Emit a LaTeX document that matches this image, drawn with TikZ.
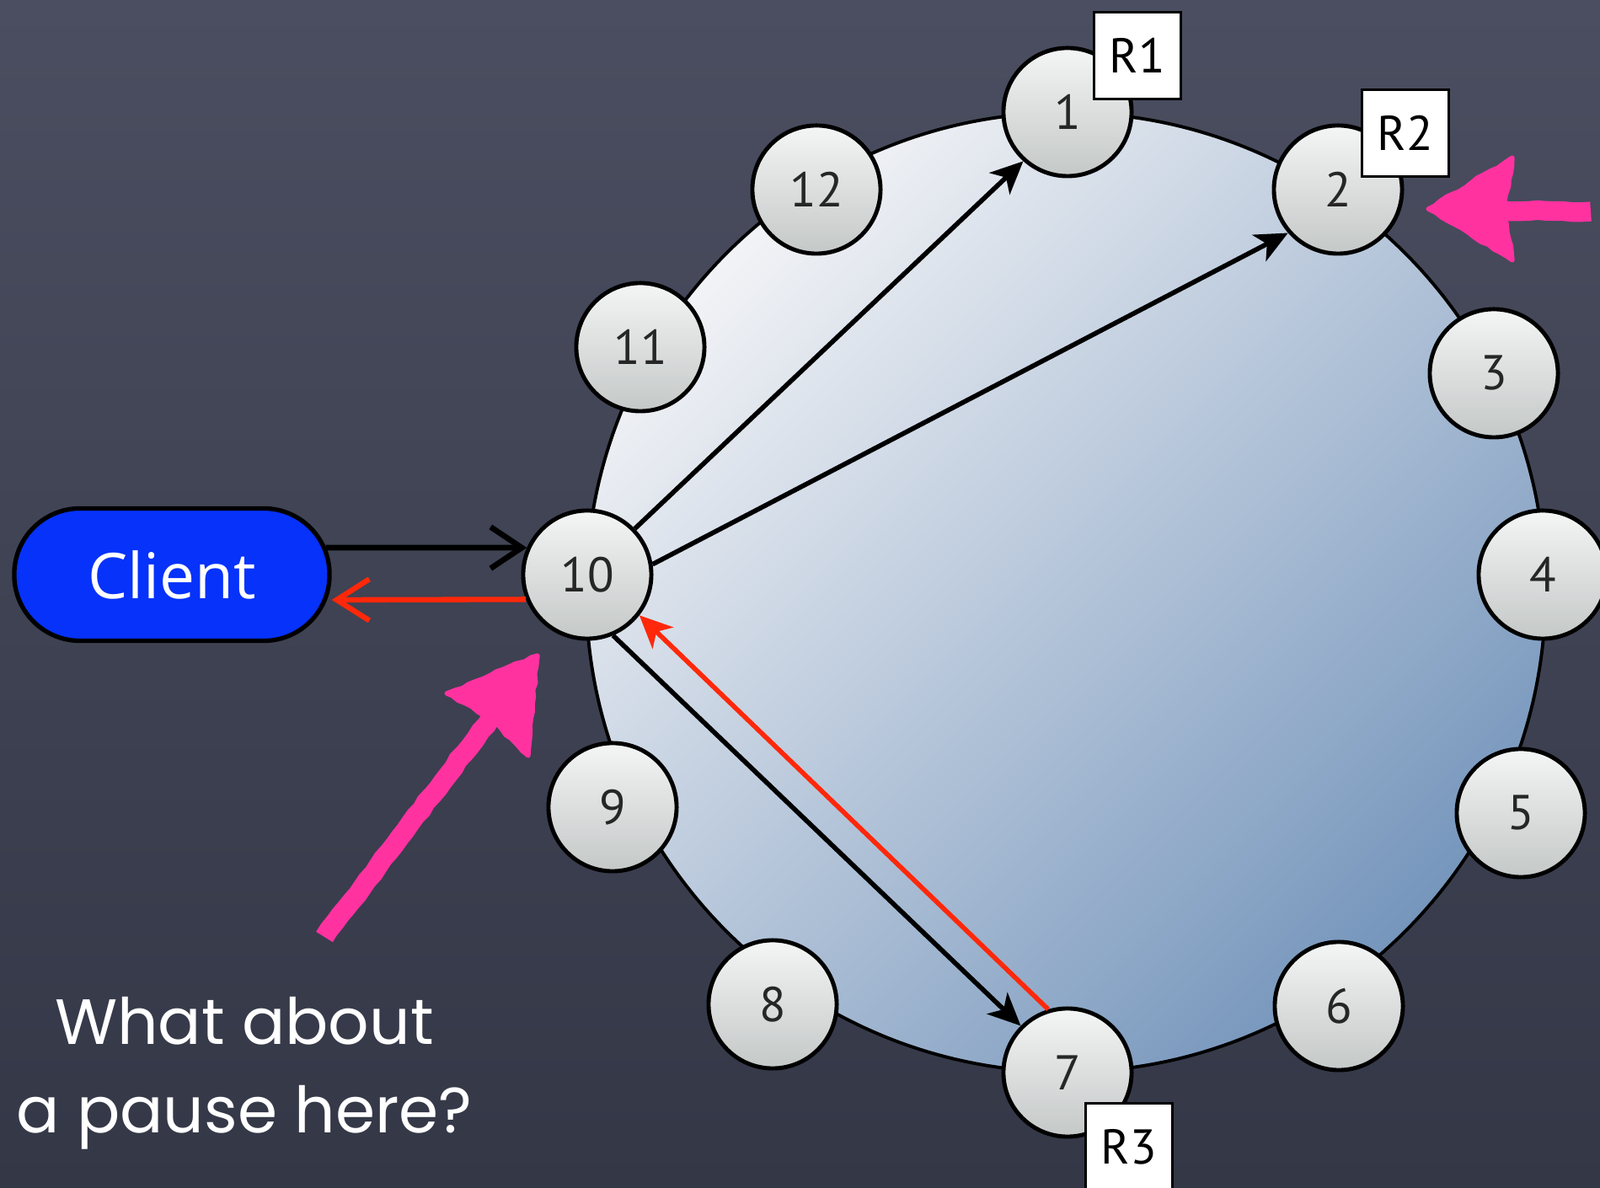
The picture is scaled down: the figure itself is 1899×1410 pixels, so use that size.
\documentclass[tikz,border=0pt]{standalone}
\usepackage{fontspec}
\setmainfont{PT Sans}
\newfontfamily\clientfont{Open Sans}
\newfontfamily\chalkfont{Poppins}
\usetikzlibrary{arrows.meta,shadings,decorations.pathmorphing}
\definecolor{bgtop}{RGB}{74,78,96}
\definecolor{bgbot}{RGB}{52,55,70}
\definecolor{ringlight}{RGB}{242,243,246}
\definecolor{ringmid}{RGB}{208,217,229}
\definecolor{ringdark}{RGB}{118,150,188}
\definecolor{nodetop}{RGB}{244,245,245}
\definecolor{nodebot}{RGB}{196,200,199}
\definecolor{clientblue}{RGB}{6,50,250}
\definecolor{msgred}{RGB}{255,40,10}
\definecolor{chalkpink}{RGB}{255,50,160}
\tikzset{
  ringnode/.style={circle, draw=black, line width=1.4pt, minimum size=1.52cm, inner sep=0pt,
    top color=nodetop, bottom color=nodebot, text=black!85,
    font=\fontsize{16.5}{16.5}\selectfont},
  rbox/.style={draw=black, fill=white, line width=0.9pt, minimum width=1.03cm,
    minimum height=1.03cm, inner sep=0pt, font=\fontsize{16.5}{16.5}\selectfont},
  clientbox/.style={draw=black, line width=1.5pt, fill=clientblue, rounded corners=0.78cm,
    minimum width=3.74cm, minimum height=1.57cm, text=white,
    font=\clientfont\fontsize{21.3}{21.3}\selectfont},
  blackarrow/.style={draw=black, line width=1.6pt, -{Stealth[length=11pt,width=10pt,inset=3pt]}},
  redarrow/.style={draw=msgred, line width=1.6pt, -{Stealth[length=11pt,width=10pt,inset=3pt]}},
  chalkline/.style={draw=chalkpink, line width=6.6pt, line cap=butt,
    decorate, decoration={random steps, segment length=3pt, amplitude=0.3pt}},
  chalkhead/.style={fill=chalkpink, draw=chalkpink, line width=1.5pt, line join=round,
    decorate, decoration={random steps, segment length=2.5pt, amplitude=0.4pt}},
  question/.style={text=white, font=\chalkfont\fontsize{21.6}{21.6}\selectfont, anchor=base}
}
\begin{document}
\begin{tikzpicture}[x=0.01cm,y=-0.01cm]
\useasboundingbox (0,0) rectangle (1899,1410);
\clip (0,0) rectangle (1899,1410);
\fill[top color=bgtop, bottom color=bgbot] (0,0) rectangle (1899,1410);

% ring
\draw[line width=1.1pt, shading=axis, top color=ringlight, middle color=ringmid,
  bottom color=ringdark, shading angle=45] (1265,703) circle[radius=5.69cm];

% ring nodes
\node[ringnode] (n1) at (1267,133) {1};
\node[ringnode] (n2) at (1588,225) {2};
\node[ringnode] (n3) at (1773,443) {3};
\node[ringnode] (n4) at (1831,682) {4};
\node[ringnode] (n5) at (1805,965) {5};
\node[ringnode] (n6) at (1589,1194) {6};
\node[ringnode] (n7) at (1267,1273) {7};
\node[ringnode] (n8) at (917,1192) {8};
\node[ringnode] (n9) at (727,958) {9};
\node[ringnode] (n10) at (697,682) {10};
\node[ringnode] (n11) at (760,412) {11};
\node[ringnode] (n12) at (969,225) {12};

% replica labels
\node[rbox] (r1) at (1350,66) {R1};
\node[rbox] (r2) at (1668,158) {R2};
\node[rbox] (r3) at (1340,1361) {R3};

% client
\node[clientbox] (client) at (204,682) {Client};

% client <-> coordinator
\draw[line width=1.9pt, -{Straight Barb[length=10.5pt,width=14pt]}]
  ([xshift=-0.07cm,yshift=0.32cm]client.east) -- (n10.156);
\draw[draw=msgred, line width=1.8pt, -{Straight Barb[length=11pt,width=14pt]}]
  (n10.202) -- ([yshift=-0.30cm]client.east);

% replication messages
\draw[blackarrow] (n10.44) -- (n1.-132);
\draw[blackarrow] (n10.9) -- (n2.-139);
\draw[blackarrow] (n10.-67) -- (n7.135);
\draw[redarrow] (n7.107) -- (n10.-38);

% pink chalk arrows
\coordinate (pa-tail) at (1888,251);
\coordinate (pa-neck) at (1785,250);
\coordinate (pa-tip) at (1695,248);
\coordinate (pa-b1) at (1795,187);
\coordinate (pa-b2) at (1795,309);
\draw[chalkline] (pa-tail) -- (pa-neck);
\path[chalkhead] (pa-tip) -- (pa-b1) -- (pa-neck) -- (pa-b2) -- cycle;

\coordinate (pb-tail) at (385,1112);
\coordinate (pb-neck) at (582,853);
\coordinate (pb-tip) at (638,778);
\coordinate (pb-b1) at (530,823);
\coordinate (pb-b2) at (627,897);
\draw[chalkline] (pb-tail) -- (pb-neck);
\path[chalkhead] (pb-tip) -- (pb-b1) -- (pb-neck) -- (pb-b2) -- cycle;

% question text
\node[question] (q1) at (290,1240) {What about};
\node[question] (q2) at (290,1345) {a pause here?};
\end{tikzpicture}
\end{document}
